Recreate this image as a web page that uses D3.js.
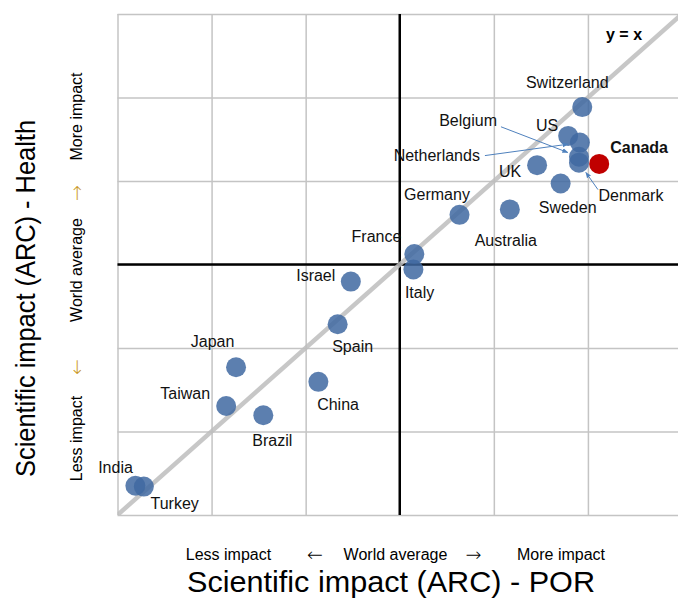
<!DOCTYPE html>
<html>
<head>
<meta charset="utf-8">
<script src="https://cdn.jsdelivr.net/npm/d3@7"></script>
<style>
  html, body { margin: 0; padding: 0; background: #fff; }
  svg { display: block; font-family: "Liberation Sans", Arial, sans-serif; }
</style>
</head>
<body>
<svg id="chart" width="678" height="601"></svg>
<script>
// ---- Data ----
const countries = ["Switzerland","US","Netherlands","Belgium","Denmark","Canada","UK","Sweden","Australia","Germany","France","Italy","Israel","Spain","Japan","China","Taiwan","Brazil","India","Turkey"];
const arcPOR    = [1.388,1.358,1.383,1.381,1.381,1.424,1.292,1.342,1.234,1.127,1.031,1.029,0.896,0.868,0.652,0.827,0.631,0.710,0.438,0.456];
const arcHealth = [1.377,1.308,1.292,1.258,1.244,1.241,1.238,1.194,1.132,1.119,1.025,0.988,0.959,0.857,0.754,0.719,0.661,0.639,0.470,0.468];
const highlight = ["Canada"];
const gridTicks = [0.4,0.6,0.8,1.0,1.2,1.4,1.6];
const worldAverage = 1.0;
const xAxisTitle = "Scientific impact (ARC) - POR";
const yAxisTitle = "Scientific impact (ARC) - Health";
const axisHints = ["Less impact","←","World average","→","More impact"];
const diagonalLabel = "y = x";

// ---- Layout (label placement relative to point, px) ----
const labelLayout = {
  "Switzerland": {a:"middle", dx:-15, dy:-19},
  "US":          {a:"middle", dx:-21, dy:-5},
  "Netherlands": {a:"end",    dx:-100, dy:18, arrow:[-95,13]},
  "Belgium":     {a:"end",    dx:-82, dy:-31, arrow:[-78,-30]},
  "Denmark":     {a:"start",  dx:19.5, dy:38, arrow:[19,27]},
  "Canada":      {a:"start",  dx:11, dy:-11, bold:true},
  "UK":          {a:"end",    dx:-16, dy:12},
  "Sweden":      {a:"middle", dx:7, dy:29},
  "Australia":   {a:"middle", dx:-4, dy:36.5},
  "Germany":     {a:"middle", dx:-22.5, dy:-15},
  "France":      {a:"end",    dx:-13, dy:-12},
  "Italy":       {a:"start",  dx:-8.5, dy:28},
  "Israel":      {a:"end",    dx:-15.5, dy:-0.5},
  "Spain":       {a:"middle", dx:15, dy:28},
  "Japan":       {a:"middle", dx:-23.5, dy:-20},
  "China":       {a:"middle", dx:19.7, dy:28},
  "Taiwan":      {a:"end",    dx:-16, dy:-7},
  "Brazil":      {a:"middle", dx:9, dy:30.7},
  "India":       {a:"end",    dx:-2.5, dy:-13},
  "Turkey":      {a:"start",  dx:6.7, dy:22.3}
};

const data = countries.map((c, i) => ({name: c, x: arcPOR[i], y: arcHealth[i]}));

const svg = d3.select("#chart");
const x = d3.scaleLinear().domain([0.4, 1.6]).range([117.5, 682]);
const y = d3.scaleLinear().domain([0.4, 1.6]).range([515, 14]);
const plotW = x.range()[1] - x.range()[0];
const plotH = y.range()[0] - y.range()[1];

// defs
const defs = svg.append("defs");
defs.append("clipPath").attr("id", "plotclip")
  .append("rect").attr("x", x.range()[0]).attr("y", y.range()[1]).attr("width", plotW).attr("height", plotH);
defs.append("marker").attr("id", "ah").attr("viewBox", "0 0 10 10")
  .attr("refX", 9).attr("refY", 5).attr("markerWidth", 6).attr("markerHeight", 6)
  .attr("orient", "auto")
  .append("path").attr("d", "M0,1 L10,5 L0,9 Z").attr("fill", "#4f81bd");

// gridlines through axes
const gx = svg.append("g").attr("transform", `translate(0,${y.range()[0]})`)
  .call(d3.axisBottom(x).tickValues(gridTicks).tickSize(-plotH).tickFormat(""));
const gy = svg.append("g").attr("transform", `translate(${x.range()[0]},0)`)
  .call(d3.axisLeft(y).tickValues(gridTicks).tickSize(-plotW).tickFormat(""));
[gx, gy].forEach(g => {
  g.select(".domain").remove();
  g.selectAll(".tick line").attr("stroke", "#c4c4c4").attr("stroke-width", 1.5);
});

// world average axes
svg.append("line").attr("x1", x.range()[0]).attr("x2", x.range()[1])
  .attr("y1", y(worldAverage)).attr("y2", y(worldAverage))
  .attr("stroke", "#000").attr("stroke-width", 2.5);
svg.append("line").attr("x1", x(worldAverage)).attr("x2", x(worldAverage))
  .attr("y1", y.range()[1]).attr("y2", y.range()[0])
  .attr("stroke", "#000").attr("stroke-width", 2.5);

// diagonal y = x
svg.append("line").attr("clip-path", "url(#plotclip)")
  .attr("x1", x(0.4)).attr("y1", y(0.4)).attr("x2", x(1.6)).attr("y2", y(1.6))
  .attr("stroke", "#bdbdbd").attr("stroke-opacity", 0.85).attr("stroke-width", 4.5);

svg.append("text").attr("x", 606).attr("y", 40)
  .attr("font-size", 16).attr("font-weight", "bold").attr("fill", "#000")
  .text(diagonalLabel);

// points
svg.append("g").selectAll("circle").data(data).join("circle")
  .attr("cx", d => x(d.x)).attr("cy", d => y(d.y)).attr("r", 10)
  .attr("fill", d => highlight.includes(d.name) ? "#c00000" : "#3f68a1")
  .attr("fill-opacity", d => highlight.includes(d.name) ? 1 : 0.85);

// arrows
data.forEach(d => {
  const L = labelLayout[d.name];
  if (!L || !L.arrow) return;
  const px = x(d.x), py = y(d.y);
  const sx = px + L.arrow[0], sy = py + L.arrow[1];
  const dist = Math.hypot(px - sx, py - sy);
  const f = (dist - 12) / dist;
  svg.append("line").attr("x1", sx).attr("y1", sy)
    .attr("x2", sx + (px - sx) * f).attr("y2", sy + (py - sy) * f)
    .attr("stroke", "#4f81bd").attr("stroke-width", 1)
    .attr("marker-end", "url(#ah)");
});

// labels
svg.append("g").selectAll("text").data(data).join("text")
  .attr("x", d => x(d.x) + labelLayout[d.name].dx)
  .attr("y", d => y(d.y) + labelLayout[d.name].dy)
  .attr("text-anchor", d => labelLayout[d.name].a)
  .attr("font-size", 16)
  .attr("font-weight", d => labelLayout[d.name].bold ? "bold" : "normal")
  .attr("fill", "#111")
  .text(d => d.name);

const isArrow = i => i === 1 || i === 3;

// axis hints bottom
const hintX = [228.5, 315, 395.5, 473.5, 561];
svg.append("g").selectAll("text").data(axisHints).join("text")
  .attr("x", (d, i) => hintX[i]).attr("y", (d, i) => isArrow(i) ? 561 : 560)
  .attr("text-anchor", "middle")
  .attr("font-size", (d, i) => isArrow(i) ? 19 : 16)
  .attr("font-family", (d, i) => isArrow(i) ? "DejaVu Sans" : null)
  .attr("font-weight", (d, i) => isArrow(i) ? 200 : null)
  .attr("fill", "#000")
  .text(d => d);

// axis hints left (rotated)
const hintY = [438.5, 367, 270, 193, 116.5];
svg.append("g").selectAll("text").data(axisHints).join("text")
  .attr("transform", (d, i) => `translate(${isArrow(i) ? 83 : 82},${hintY[i]}) rotate(-90)`)
  .attr("text-anchor", "middle")
  .attr("font-size", (d, i) => isArrow(i) ? 19 : 16)
  .attr("font-family", (d, i) => isArrow(i) ? "DejaVu Sans" : null)
  .attr("font-weight", (d, i) => isArrow(i) ? 200 : null)
  .attr("fill", (d, i) => isArrow(i) ? "#c8961e" : "#000")
  .text(d => d);

// axis titles
svg.append("text").attr("x", 391).attr("y", 592)
  .attr("text-anchor", "middle").attr("font-size", 30)
  .attr("textLength", 408).attr("lengthAdjust", "spacingAndGlyphs")
  .text(xAxisTitle);
svg.append("text").attr("transform", "translate(35,298.5) rotate(-90)")
  .attr("text-anchor", "middle").attr("font-size", 28)
  .attr("textLength", 357).attr("lengthAdjust", "spacingAndGlyphs")
  .text(yAxisTitle);
</script>
</body>
</html>
